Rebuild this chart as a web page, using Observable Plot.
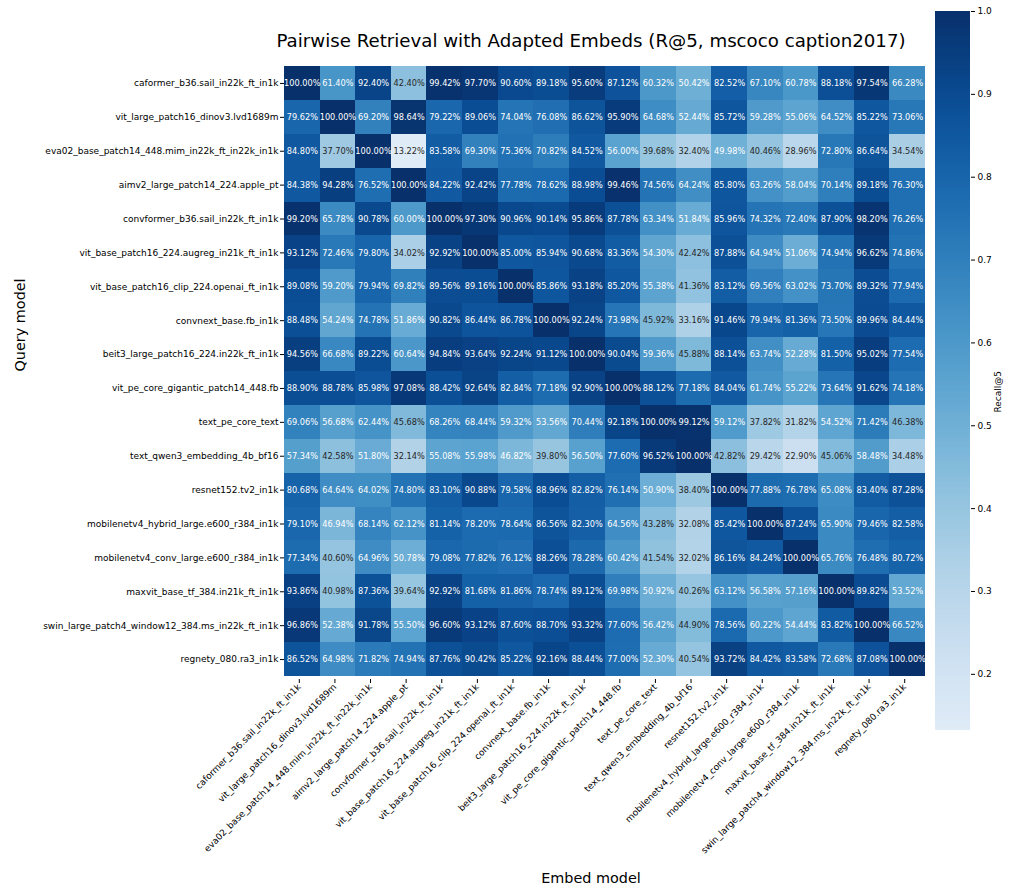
<!DOCTYPE html>
<html>
<head>
<meta charset="utf-8">
<script src="https://cdn.jsdelivr.net/npm/d3@7"></script>
<script src="https://cdn.jsdelivr.net/npm/@observablehq/plot@0.6"></script>
<style>
  body { margin: 0; background: #ffffff; font-family: "DejaVu Sans", sans-serif; }
  #wrap { position: relative; width: 1010px; height: 892px; background: #ffffff; }
  #wrap > svg { position: absolute; overflow: visible; }
</style>
</head>
<body>
<div id="wrap"></div>
<script>
// ---------- data ----------
const models = [
  "caformer_b36.sail_in22k_ft_in1k",
  "vit_large_patch16_dinov3.lvd1689m",
  "eva02_base_patch14_448.mim_in22k_ft_in22k_in1k",
  "aimv2_large_patch14_224.apple_pt",
  "convformer_b36.sail_in22k_ft_in1k",
  "vit_base_patch16_224.augreg_in21k_ft_in1k",
  "vit_base_patch16_clip_224.openai_ft_in1k",
  "convnext_base.fb_in1k",
  "beit3_large_patch16_224.in22k_ft_in1k",
  "vit_pe_core_gigantic_patch14_448.fb",
  "text_pe_core_text",
  "text_qwen3_embedding_4b_bf16",
  "resnet152.tv2_in1k",
  "mobilenetv4_hybrid_large.e600_r384_in1k",
  "mobilenetv4_conv_large.e600_r384_in1k",
  "maxvit_base_tf_384.in21k_ft_in1k",
  "swin_large_patch4_window12_384.ms_in22k_ft_in1k",
  "regnety_080.ra3_in1k"
];

// Recall@5 (%) — one array per query model (row), columns follow `models` (embed model)
const row00 = [100.00, 61.40, 92.40, 42.40, 99.42, 97.70, 90.60, 89.18, 95.60, 87.12, 60.32, 50.42, 82.52, 67.10, 60.78, 88.18, 97.54, 66.28];
const row01 = [79.62, 100.00, 69.20, 98.64, 79.22, 89.06, 74.04, 76.08, 86.62, 95.90, 64.68, 52.44, 85.72, 59.28, 55.06, 64.52, 85.22, 73.06];
const row02 = [84.80, 37.70, 100.00, 13.22, 83.58, 69.30, 75.36, 70.82, 84.52, 56.00, 39.68, 32.40, 49.98, 40.46, 28.96, 72.80, 86.64, 34.54];
const row03 = [84.38, 94.28, 76.52, 100.00, 84.22, 92.42, 77.78, 78.62, 88.98, 99.46, 74.56, 64.24, 85.80, 63.26, 58.04, 70.14, 89.18, 76.30];
const row04 = [99.20, 65.78, 90.78, 60.00, 100.00, 97.30, 90.96, 90.14, 95.86, 87.78, 63.34, 51.84, 85.96, 74.32, 72.40, 87.90, 98.20, 76.26];
const row05 = [93.12, 72.46, 79.80, 34.02, 92.92, 100.00, 85.00, 85.94, 90.68, 83.36, 54.30, 42.42, 87.88, 64.94, 51.06, 74.94, 96.62, 74.86];
const row06 = [89.08, 59.20, 79.94, 69.82, 89.56, 89.16, 100.00, 85.86, 93.18, 85.20, 55.38, 41.36, 83.12, 69.56, 63.02, 73.70, 89.32, 77.94];
const row07 = [88.48, 54.24, 74.78, 51.86, 90.82, 86.44, 86.78, 100.00, 92.24, 73.98, 45.92, 33.16, 91.46, 79.94, 81.36, 73.50, 89.96, 84.44];
const row08 = [94.56, 66.68, 89.22, 60.64, 94.84, 93.64, 92.24, 91.12, 100.00, 90.04, 59.36, 45.88, 88.14, 63.74, 52.28, 81.50, 95.02, 77.54];
const row09 = [88.90, 88.78, 85.98, 97.08, 88.42, 92.64, 82.84, 77.18, 92.90, 100.00, 88.12, 77.18, 84.04, 61.74, 55.22, 73.64, 91.62, 74.18];
const row10 = [69.06, 56.68, 62.44, 45.68, 68.26, 68.44, 59.32, 53.56, 70.44, 92.18, 100.00, 99.12, 59.12, 37.82, 31.82, 54.52, 71.42, 46.38];
const row11 = [57.34, 42.58, 51.80, 32.14, 55.08, 55.98, 46.82, 39.80, 56.50, 77.60, 96.52, 100.00, 42.82, 29.42, 22.90, 45.06, 58.48, 34.48];
const row12 = [80.68, 64.64, 64.02, 74.80, 83.10, 90.88, 79.58, 88.96, 82.82, 76.14, 50.90, 38.40, 100.00, 77.88, 76.78, 65.08, 83.40, 87.28];
const row13 = [79.10, 46.94, 68.14, 62.12, 81.14, 78.20, 78.64, 86.56, 82.30, 64.56, 43.28, 32.08, 85.42, 100.00, 87.24, 65.90, 79.46, 82.58];
const row14 = [77.34, 40.60, 64.96, 50.78, 79.08, 77.82, 76.12, 88.26, 78.28, 60.42, 41.54, 32.02, 86.16, 84.24, 100.00, 65.76, 76.48, 80.72];
const row15 = [93.86, 40.98, 87.36, 39.64, 92.92, 81.68, 81.86, 78.74, 89.12, 69.98, 50.92, 40.26, 63.12, 56.58, 57.16, 100.00, 89.82, 53.52];
const row16 = [96.86, 52.38, 91.78, 55.50, 96.60, 93.12, 87.60, 88.70, 93.32, 77.60, 56.42, 44.90, 78.56, 60.22, 54.44, 83.82, 100.00, 66.52];
const row17 = [86.52, 64.98, 71.82, 74.94, 87.76, 90.42, 85.22, 92.16, 88.44, 77.00, 52.30, 40.54, 93.72, 84.42, 83.58, 72.68, 87.08, 100.00];

const colorbarTicks = [0.2, 0.3, 0.4, 0.5, 0.6, 0.7, 0.8, 0.9, 1.0];
const titleText = "Pairwise Retrieval with Adapted Embeds (R@5, mscoco caption2017)";
const xLabel = "Embed model";
const yLabel = "Query model";
const cbarLabel = "Recall@5";

// ---------- build table ----------
const rows = [row00, row01, row02, row03, row04, row05, row06, row07, row08,
              row09, row10, row11, row12, row13, row14, row15, row16, row17];
const cells = [];
rows.forEach((r, i) => r.forEach((v, j) => cells.push({query: models[i], embed: models[j], value: v / 100})));

const vmin = d3.min(cells, d => d.value);
const vmax = d3.max(cells, d => d.value);
const blues = t => d3.interpolateBlues(0.12 + 0.88 * t);
const colorOpts = {type: "linear", domain: [vmin, vmax], interpolate: () => blues};

const darkCells = cells.filter(d => d.value < 0.466);
const lightCells = cells.filter(d => d.value >= 0.466);
const fmt = d => (d.value * 100).toFixed(2) + "%";

const FONT = "DejaVu Sans";

// ---------- main heatmap ----------
const main = Plot.plot({
  width: 1010,
  height: 892,
  marginLeft: 284,
  marginRight: 85,
  marginTop: 66,
  marginBottom: 216,
  style: {fontFamily: FONT, background: "transparent", color: "#000"},
  x: {domain: models, padding: 0, round: false, label: null, axis: null},
  y: {domain: models, padding: 0, round: false, label: null, axis: null},
  color: colorOpts,
  marks: [
    Plot.cell(cells, {x: "embed", y: "query", fill: "value", inset: 0, shapeRendering: "crispEdges"}),
    Plot.text(lightCells, {x: "embed", y: "query", text: fmt, fill: "white", fontSize: 8.2}),
    Plot.text(darkCells, {x: "embed", y: "query", text: fmt, fill: "#262626", fontSize: 8.2}),
    Plot.axisX({anchor: "bottom", tickRotate: -45, tickSize: 4, tickPadding: 2, dx: -3, dy: 3, fontSize: 9, label: null, stroke: "#000", fill: "#000"}),
    Plot.axisY({anchor: "left", tickSize: 4, tickPadding: 2, fontSize: 9, label: null, stroke: "#000", fill: "#000"}),
    Plot.text([titleText], {frameAnchor: "top", dx: -14, dy: -25, fontSize: 18.2, fill: "#000", lineAnchor: "middle"}),
    Plot.text([xLabel], {frameAnchor: "bottom", dx: -14, dy: 202, fontSize: 14.4, fill: "#000", lineAnchor: "middle"}),
    Plot.text([yLabel], {frameAnchor: "left", dx: -264, rotate: -90, fontSize: 14.4, fill: "#000", lineAnchor: "middle"})
  ]
});
main.style.left = "0px";
main.style.top = "0px";

// ---------- colorbar ----------
const N = 300;
const bands = d3.range(N).map(i => {
  const y1 = vmin + (vmax - vmin) * i / N;
  const y2 = vmin + (vmax - vmin) * (i + 1) / N;
  return {y1, y2, v: (y1 + y2) / 2};
});

const cbar = Plot.plot({
  width: 90,
  height: 742,
  marginLeft: 15,
  marginRight: 40,
  marginTop: 11,
  marginBottom: 12,
  style: {fontFamily: FONT, background: "transparent", color: "#000"},
  x: {domain: [0, 1], axis: null},
  y: {domain: [vmin, vmax], axis: null},
  color: colorOpts,
  marks: [
    Plot.rect(bands, {x1: 0, x2: 1, y1: "y1", y2: "y2", fill: "v", shapeRendering: "crispEdges"}),
    Plot.axisY({anchor: "right", ticks: colorbarTicks, tickFormat: ".1f", tickSize: 4, tickPadding: 3, fontSize: 9, label: null, stroke: "#000", fill: "#000"}),
    Plot.text([cbarLabel], {frameAnchor: "right", dx: 28, rotate: -90, fontSize: 9, fill: "#000", lineAnchor: "middle"})
  ]
});
cbar.style.left = "920px";
cbar.style.top = "0px";

const wrap = document.getElementById("wrap");
wrap.appendChild(main);
wrap.appendChild(cbar);
</script>
</body>
</html>
